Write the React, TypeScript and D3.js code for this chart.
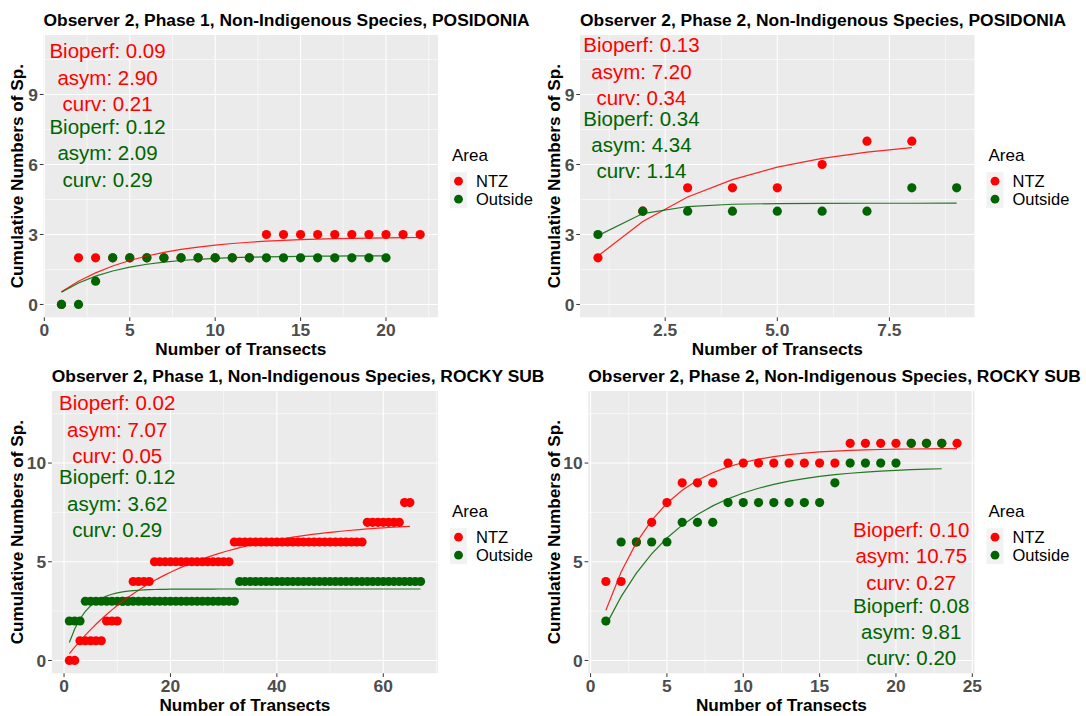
import React from 'react';
import * as d3 from 'd3';

// ---------- colours ----------
const NTZ_COLOR = '#FF0000';
const OUT_COLOR = '#006400';

// ---------- data: cumulative species per transect (index = transect number - 1) ----------
// Observer 2, Phase 1, POSIDONIA
const p1PosNtz = [0, 2, 2, 2, 2, 2, 2, 2, 2, 2, 2, 2, 3, 3, 3, 3, 3, 3, 3, 3, 3, 3];
const p1PosOut = [0, 0, 1, 2, 2, 2, 2, 2, 2, 2, 2, 2, 2, 2, 2, 2, 2, 2, 2, 2];
// Observer 2, Phase 2, POSIDONIA
const p2PosNtz = [2, 4, 5, 5, 5, 6, 7, 7];
const p2PosOut = [3, 4, 4, 4, 4, 4, 4, 5, 5];
// Observer 2, Phase 1, ROCKY SUB
const p1RockNtz = [
  0, 0, 1, 1, 1, 1, 1, 2, 2, 2, 3, 3, 4, 4, 4, 4,
  5, 5, 5, 5, 5, 5, 5, 5, 5, 5, 5, 5, 5, 5, 5,
  6, 6, 6, 6, 6, 6, 6, 6, 6, 6, 6, 6, 6, 6, 6, 6, 6, 6, 6, 6, 6, 6, 6, 6, 6,
  7, 7, 7, 7, 7, 7, 7, 8, 8,
];
const p1RockOut = [
  2, 2, 2,
  3, 3, 3, 3, 3, 3, 3, 3, 3, 3, 3, 3, 3, 3, 3, 3, 3, 3, 3, 3, 3, 3, 3, 3, 3, 3, 3, 3, 3,
  4, 4, 4, 4, 4, 4, 4, 4, 4, 4, 4, 4, 4, 4, 4, 4, 4, 4, 4, 4, 4, 4, 4, 4, 4, 4, 4, 4, 4, 4, 4, 4, 4, 4, 4,
];
// Observer 2, Phase 2, ROCKY SUB
const p2RockNtz = [4, 4, 6, 7, 8, 9, 9, 9, 10, 10, 10, 10, 10, 10, 10, 10, 11, 11, 11, 11, 11, 11, 11, 11];
const p2RockOut = [2, 6, 6, 6, 6, 7, 7, 7, 8, 8, 8, 8, 8, 8, 8, 9, 10, 10, 10, 10, 11, 11, 11];

// ---------- fitted asymptotic model parameters ----------
const p1PosFit = { ntz: { bioperf: 0.09, asym: 2.9, curv: 0.21 }, out: { bioperf: 0.12, asym: 2.09, curv: 0.29 } };
const p2PosFit = { ntz: { bioperf: 0.13, asym: 7.2, curv: 0.34 }, out: { bioperf: 0.34, asym: 4.34, curv: 1.14 } };
const p1RockFit = { ntz: { bioperf: 0.02, asym: 7.07, curv: 0.05 }, out: { bioperf: 0.12, asym: 3.62, curv: 0.29 } };
const p2RockFit = { ntz: { bioperf: 0.1, asym: 10.75, curv: 0.27 }, out: { bioperf: 0.08, asym: 9.81, curv: 0.2 } };

// ---------- ticks ----------
const xTicksPosPh1 = [0, 5, 10, 15, 20];
const xTicksPosPh2 = [2.5, 5, 7.5];
const xTickLabelsPosPh2 = ['2.5', '5.0', '7.5'];
const xTicksRockPh1 = [0, 20, 40, 60];
const xTicksRockPh2 = [0, 5, 10, 15, 20, 25];
const yTicksPos = [0, 3, 6, 9];
const yTicksRock = [0, 5, 10];

const legendLabels = ['NTZ', 'Outside'];

type Fit = { bioperf: number; asym: number; curv: number };
type PanelDef = {
  title: string;
  ntz: number[];
  out: number[];
  fit: { ntz: Fit; out: Fit };
  yMax: number;
  xTicks: number[];
  xTickLabels?: string[];
  yTicks: number[];
  cellX: number;
  cellY: number;
  panelLeft: number;
  label: { x: number; yNtz: number; yOut: number };
};

const panels: PanelDef[] = [
  {
    title: 'Observer 2, Phase 1, Non-Indigenous Species, POSIDONIA',
    ntz: p1PosNtz, out: p1PosOut, fit: p1PosFit, yMax: 11,
    xTicks: xTicksPosPh1, yTicks: yTicksPos,
    cellX: 0, cellY: 0, panelLeft: 43.5,
    label: { x: 3.7, yNtz: 9.74, yOut: 6.49 },
  },
  {
    title: 'Observer 2, Phase 2, Non-Indigenous Species, POSIDONIA',
    ntz: p2PosNtz, out: p2PosOut, fit: p2PosFit, yMax: 11,
    xTicks: xTicksPosPh2, xTickLabels: xTickLabelsPosPh2, yTicks: yTicksPos,
    cellX: 536.5, cellY: 0, panelLeft: 43.5,
    label: { x: 1.97, yNtz: 10.0, yOut: 6.86 },
  },
  {
    title: 'Observer 2, Phase 1, Non-Indigenous Species, ROCKY SUB',
    ntz: p1RockNtz, out: p1RockOut, fit: p1RockFit, yMax: 13,
    xTicks: xTicksRockPh1, yTicks: yTicksRock,
    cellX: 0, cellY: 356, panelLeft: 51.8,
    label: { x: 10, yNtz: 11.71, yOut: 7.96 },
  },
  {
    title: 'Observer 2, Phase 2, Non-Indigenous Species, ROCKY SUB',
    ntz: p2RockNtz, out: p2RockOut, fit: p2RockFit, yMax: 13,
    xTicks: xTicksRockPh2, yTicks: yTicksRock,
    cellX: 536.5, cellY: 356, panelLeft: 51.8,
    label: { x: 21, yNtz: 5.29, yOut: 1.46 },
  },
];

// shared cell geometry
const PANEL_RIGHT = 438.1;
const PANEL_TOP = 35;
const PANEL_BOTTOM = 317.3;
const FONT = "'Liberation Sans', Arial, Helvetica, sans-serif";

const fitValue = (f: Fit, x: number) => f.asym * (1 - Math.exp(-f.curv * x));

function midpoints(ticks: number[], lo: number, hi: number) {
  const step = ticks[1] - ticks[0];
  const out: number[] = [];
  for (let v = ticks[0] - step / 2; v <= hi; v += step) if (v >= lo) out.push(v);
  return out;
}

function Panel({ p }: { p: PanelDef }) {
  const n = Math.max(p.ntz.length, p.out.length);
  const xMin = 1;
  const xMax = n;
  const xPad = (xMax - xMin) * 0.05;
  const yPad = p.yMax * 0.05;
  const left = p.panelLeft;
  const x = d3.scaleLinear().domain([xMin - xPad, xMax + xPad]).range([left, PANEL_RIGHT]);
  const y = d3.scaleLinear().domain([-yPad, p.yMax + yPad]).range([PANEL_BOTTOM, PANEL_TOP]);
  const [xd0, xd1] = x.domain();
  const [yd0, yd1] = y.domain();

  const xMinor = midpoints(p.xTicks, xd0, xd1);
  const yMinor = midpoints(p.yTicks, yd0, yd1);

  const series = [
    { key: 'ntz', values: p.ntz, fit: p.fit.ntz, color: NTZ_COLOR },
    { key: 'out', values: p.out, fit: p.fit.out, color: OUT_COLOR },
  ];

  // fitted curve evaluated at each observed transect
  const curvePath = (vals: number[], f: Fit) =>
    d3
      .line<number>()
      .x((_, i) => x(i + 1))
      .y((_, i) => y(fitValue(f, i + 1)))(vals) || '';

  const cx = (left + PANEL_RIGHT) / 2;
  const cy = (PANEL_TOP + PANEL_BOTTOM) / 2;
  const lineGap = 26.3;

  const labelBlock = (f: Fit, yc: number, color: string) => {
    const lines = [`Bioperf: ${f.bioperf.toFixed(2)}`, `asym: ${f.asym.toFixed(2)}`, `curv: ${f.curv.toFixed(2)}`];
    return lines.map((t, i) => (
      <text
        key={t + i}
        x={x(p.label.x)}
        y={y(yc) + (i - 1) * lineGap + 7.4}
        textAnchor="middle"
        fontSize={20.5}
        fill={color}
        fontFamily={FONT}
      >
        {t}
      </text>
    ));
  };

  return (
    <g transform={`translate(${p.cellX},${p.cellY})`}>
      {/* panel background */}
      <rect x={left} y={PANEL_TOP} width={PANEL_RIGHT - left} height={PANEL_BOTTOM - PANEL_TOP} fill="#EBEBEB" />
      {/* minor grid */}
      {xMinor.map((v) => (
        <line key={'xm' + v} x1={x(v)} x2={x(v)} y1={PANEL_TOP} y2={PANEL_BOTTOM} stroke="#fff" strokeWidth={0.55} />
      ))}
      {yMinor.map((v) => (
        <line key={'ym' + v} x1={left} x2={PANEL_RIGHT} y1={y(v)} y2={y(v)} stroke="#fff" strokeWidth={0.55} />
      ))}
      {/* major grid */}
      {p.xTicks.map((v) => (
        <line key={'xM' + v} x1={x(v)} x2={x(v)} y1={PANEL_TOP} y2={PANEL_BOTTOM} stroke="#fff" strokeWidth={1.1} />
      ))}
      {p.yTicks.map((v) => (
        <line key={'yM' + v} x1={left} x2={PANEL_RIGHT} y1={y(v)} y2={y(v)} stroke="#fff" strokeWidth={1.1} />
      ))}

      {/* observed points */}
      {series.map((s) =>
        s.values.map((v, i) => (
          <circle key={s.key + i} cx={x(i + 1)} cy={y(v)} r={4.6} fill={s.color} />
        ))
      )}
      {/* fitted curves */}
      {series.map((s) => (
        <path key={'c' + s.key} d={curvePath(s.values, s.fit)} fill="none" stroke={s.color} strokeWidth={1.2} strokeOpacity={0.85} />
      ))}

      {/* model labels */}
      {labelBlock(p.fit.ntz, p.label.yNtz, NTZ_COLOR)}
      {labelBlock(p.fit.out, p.label.yOut, OUT_COLOR)}

      {/* axes ticks */}
      {p.xTicks.map((v, i) => (
        <g key={'xt' + v}>
          <line x1={x(v)} x2={x(v)} y1={PANEL_BOTTOM} y2={PANEL_BOTTOM + 3.7} stroke="#333" strokeWidth={1} />
          <text x={x(v)} y={335.6} textAnchor="middle" fontSize={17.4} fontWeight="bold" fill="#4D4D4D" fontFamily={FONT}>
            {p.xTickLabels ? p.xTickLabels[i] : String(v)}
          </text>
        </g>
      ))}
      {p.yTicks.map((v) => (
        <g key={'yt' + v}>
          <line x1={left - 3.7} x2={left} y1={y(v)} y2={y(v)} stroke="#333" strokeWidth={1} />
          <text x={left - 5.6} y={y(v) + 6.2} textAnchor="end" fontSize={17.4} fontWeight="bold" fill="#4D4D4D" fontFamily={FONT}>
            {v}
          </text>
        </g>
      ))}

      {/* axis titles */}
      <text x={cx} y={355} textAnchor="middle" fontSize={17.2} fontWeight="bold" fill="#000" fontFamily={FONT}>
        Number of Transects
      </text>
      <text
        x={23.5}
        y={cy}
        transform={`rotate(-90, 23.5, ${cy})`}
        textAnchor="middle"
        fontSize={17.2}
        fontWeight="bold"
        fill="#000"
        fontFamily={FONT}
      >
        Cumulative Numbers of Sp.
      </text>

      {/* title */}
      <text x={left} y={26} fontSize={17.4} fontWeight="bold" fill="#000" fontFamily={FONT}>
        {p.title}
      </text>

      {/* legend */}
      <g>
        <text x={452} y={cy - 21 + 6} fontSize={17} fill="#000" fontFamily={FONT}>
          Area
        </text>
        {legendLabels.map((lab, i) => {
          const ky = cy - 4 + i * 18;
          return (
            <g key={lab}>
              <rect x={450} y={ky} width={17} height={18} fill="#F2F2F2" />
              <circle cx={458.5} cy={ky + 9} r={4.4} fill={i === 0 ? NTZ_COLOR : OUT_COLOR} />
              <text x={476} y={ky + 9 + 6} fontSize={16.5} fill="#000" fontFamily={FONT}>
                {lab}
              </text>
            </g>
          );
        })}
      </g>
    </g>
  );
}

export default function App() {
  return (
    <svg
      width={1086}
      height={716}
      viewBox="0 0 1086 716"
      style={{ position: 'absolute', left: 0, top: 0, background: '#fff' }}
    >
      <rect width={1086} height={716} fill="#fff" />
      {panels.map((p, i) => (
        <Panel key={i} p={p} />
      ))}
    </svg>
  );
}
